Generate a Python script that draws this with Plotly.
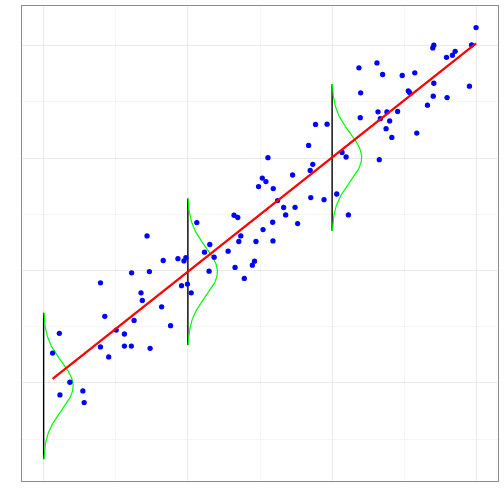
# Bibliotecas
import numpy as np
import plotly.graph_objects as go

# Dados
x = [
    0.62, 1.09, 1.82, 1.13, 2.72, 2.81, 3.94, 3.94, 4.24, 4.51,
    5.03, 5.60, 5.60, 6.08, 6.10, 6.27, 6.75, 6.84, 7.17, 7.33,
    7.38, 8.18, 8.29, 8.80, 9.31, 9.56, 9.73, 9.86, 9.97, 10.23,
    10.62, 11.15, 11.47, 11.52, 11.82, 12.79, 13.20, 13.46, 13.27, 13.53,
    13.67, 13.91, 14.47, 14.62, 14.72, 14.90, 15.16, 15.21, 15.41, 15.55,
    15.88, 15.90, 15.92, 16.22, 16.64, 16.78, 17.26, 17.43, 17.61, 18.37,
    18.48, 18.52, 18.66, 18.85, 19.44, 19.65, 20.32, 20.69, 20.97, 21.13,
    21.86, 21.95, 21.98, 23.11, 23.18, 23.27, 23.34, 23.50, 23.74, 23.80,
    23.99, 24.14, 24.54, 24.86, 25.28, 25.37, 25.73, 25.87, 26.61, 26.98,
    27.05, 27.05, 27.01, 27.93, 27.97, 28.34, 28.53, 29.52, 29.67, 29.98
]
y = [
    2.66, 4.41, 0.06, -1.07, -0.71, -1.75, 8.90, 3.20, 5.92, 2.31,
    4.70, 4.35, 3.28, 3.28, 9.79, 5.56, 8.01, 7.34, 13.07, 9.90,
    3.08, 6.77, 10.89, 5.09, 11.05, 8.65, 10.85, 11.14, 8.79, 8.01,
    14.26, 11.63, 9.94, 12.31, 11.18, 11.72, 14.91, 14.71, 10.27, 12.58,
    13.07, 9.29, 10.47, 10.83, 12.58, 17.46, 18.22, 13.64, 17.91, 20.03,
    14.29, 12.63, 17.28, 16.22, 15.60, 14.94, 18.49, 15.62, 14.17, 21.12,
    18.90, 16.48, 19.44, 22.99, 16.30, 23.01, 16.80, 20.50, 20.09, 14.94,
    28.02, 23.59, 25.80, 28.46, 24.11, 19.85, 23.50, 27.43, 22.61, 24.10,
    23.30, 21.83, 24.14, 27.34, 25.98, 25.83, 27.58, 22.22, 24.70, 29.79,
    30.03, 26.65, 25.50, 28.96, 25.38, 29.14, 29.49, 26.39, 30.06, 31.60
]

# Reta ajustada e curvas normais
intercepto = -0.27
inclinacao = 1.016
sigma = 2.17
posicoes = [0, 10, 20]
largura_pico = 2.05

fig = go.Figure()

for xk in posicoes:
    centro = intercepto + inclinacao * xk
    yy = np.linspace(centro - 3 * sigma, centro + 3 * sigma, 200)
    dens = np.exp(-0.5 * ((yy - centro) / sigma) ** 2)
    fig.add_trace(
        go.Scatter(
            x = [xk, xk],
            y = [yy[0], yy[-1]],
            mode = "lines",
            line_color = "black",
            line_width = 1.4,
            showlegend = False
            )
        )
    fig.add_trace(
        go.Scatter(
            x = xk + largura_pico * dens,
            y = yy,
            mode = "lines",
            line_color = "#00ff00",
            line_width = 1.2,
            showlegend = False
            )
        )

fig.add_trace(
    go.Scatter(
        x = x,
        y = y,
        mode = "markers",
        marker = dict(color = "blue", size = 5.3),
        showlegend = False
        )
    )

x_reta = [min(x), max(x)]
fig.add_trace(
    go.Scatter(
        x = x_reta,
        y = [intercepto + inclinacao * v for v in x_reta],
        mode = "lines",
        line_color = "red",
        line_width = 2.3,
        showlegend = False
        )
    )

eixo = dict(
    showticklabels = False,
    ticks = "",
    zeroline = False,
    showgrid = True,
    gridcolor = "#ebebeb",
    gridwidth = 1,
    showline = True,
    mirror = True,
    linecolor = "#8c8c8c",
    linewidth = 1,
    dtick = 10,
    tick0 = 0,
    minor = dict(dtick = 5, showgrid = True, gridcolor = "#f5f5f5", gridwidth = 1)
)

fig.update_layout(
    width = 504,
    height = 504,
    autosize = False,
    margin = dict(l = 22, r = 5, t = 5, b = 23),
    plot_bgcolor = "white",
    paper_bgcolor = "white",
    xaxis = dict(eixo, range = [-1.5, 31.5]),
    yaxis = dict(eixo, range = [-8.72, 33.52])
)

# Sem margem da página, a figura ocupa a janela inteira
fig.write_html(
    "out.html",
    config = {"displayModeBar": False},
    post_script = "document.body.style.margin = '0'; Plotly.relayout('{plot_id}', {width: 504, height: 504});"
)
